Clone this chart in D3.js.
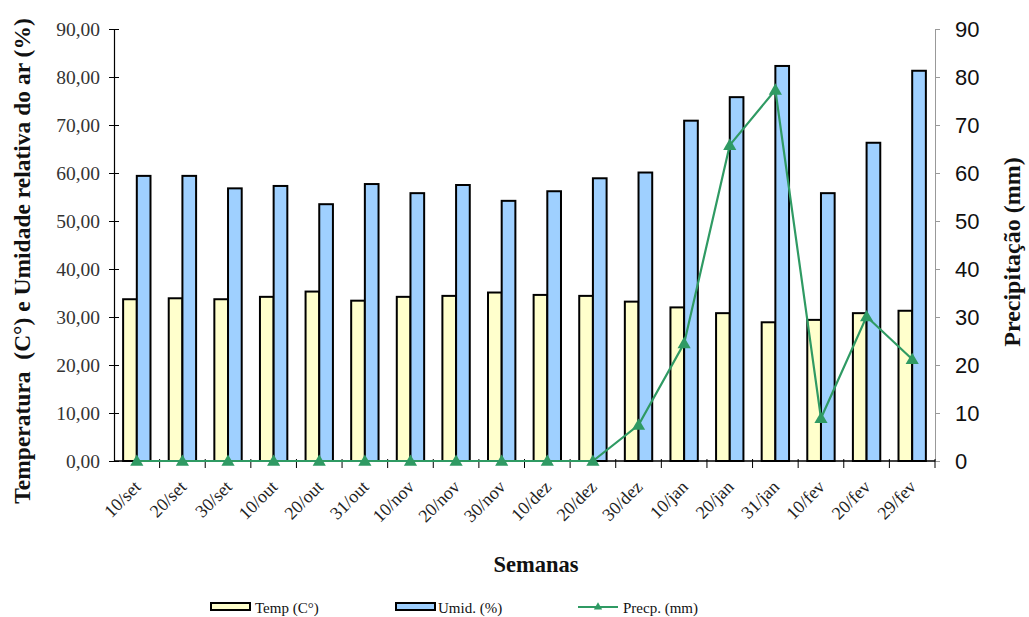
<!DOCTYPE html>
<html>
<head>
<meta charset="utf-8">
<script src="https://cdn.jsdelivr.net/npm/d3@7"></script>
<style>
  body { margin: 0; background: #fff; }
  svg { display: block; }
</style>
</head>
<body>
<svg id="chart" width="1029" height="617"></svg>
<script>
const semanas = ["10/set", "20/set", "30/set", "10/out", "20/out", "31/out", "10/nov", "20/nov", "30/nov",
    "10/dez", "20/dez", "30/dez", "10/jan", "20/jan", "31/jan", "10/fev", "20/fev", "29/fev"];
const temp = [33.7, 33.9, 33.7, 34.2, 35.3, 33.4, 34.2, 34.4, 35.1, 34.6, 34.4, 33.2, 32.0, 30.8, 28.9, 29.4, 30.8, 31.3];
const umid = [59.4, 59.4, 56.8, 57.3, 53.5, 57.7, 55.8, 57.5, 54.2, 56.2, 58.9, 60.1, 70.9, 75.8, 82.3, 55.8, 66.3, 81.3];
const precp = [0, 0, 0, 0, 0, 0, 0, 0, 0, 0, 0, 7.5, 24.5, 65.8, 77.3, 8.9, 30.1, 21.2];
const leftTicks = [0, 10, 20, 30, 40, 50, 60, 70, 80, 90];
const rightTicks = [0, 10, 20, 30, 40, 50, 60, 70, 80, 90];

const svg = d3.select("#chart");
const plotLeft = 114, plotRight = 935, plotTop = 29, plotBottom = 461;
const serif = "'Liberation Serif', 'Times New Roman', serif";
const sans = "'Liberation Sans', Arial, sans-serif";
const green = "#2f9a63";

const x = d3.scaleBand().domain(semanas).range([plotLeft, plotRight]).padding(0);
const xs = d3.scaleBand().domain(["temp", "umid"]).range([x.bandwidth() * 0.2, x.bandwidth() * 0.8]);
const yL = d3.scaleLinear().domain([0, 90]).range([plotBottom, plotTop]);
const yR = d3.scaleLinear().domain([0, 90]).range([plotBottom, plotTop]);

// bars
const g = svg.append("g");
semanas.forEach((s, i) => {
    g.append("rect")
        .attr("x", x(s) + xs("temp")).attr("y", yL(temp[i]))
        .attr("width", xs.bandwidth()).attr("height", plotBottom - yL(temp[i]))
        .attr("fill", "#ffffcc").attr("stroke", "#000").attr("stroke-width", 2);
    g.append("rect")
        .attr("x", x(s) + xs("umid")).attr("y", yL(umid[i]))
        .attr("width", xs.bandwidth()).attr("height", plotBottom - yL(umid[i]))
        .attr("fill", "#9fd0ff").attr("stroke", "#000").attr("stroke-width", 2);
});

// left axis
const axL = svg.append("g").attr("transform", `translate(${plotLeft},0)`)
    .call(d3.axisLeft(yL).tickValues(leftTicks).tickSize(5).tickPadding(9)
        .tickFormat(d => d3.format(".2f")(d).replace(".", ",")));
axL.select(".domain").attr("stroke", "#000").attr("stroke-width", 1.2);
axL.selectAll(".tick line").attr("x1", 5).attr("x2", -5).attr("stroke", "#000");
axL.selectAll(".tick text").attr("font-family", serif).attr("font-size", 19.5).attr("fill", "#333");

// right axis
const axR = svg.append("g").attr("transform", `translate(${plotRight},0)`)
    .call(d3.axisRight(yR).tickValues(rightTicks).tickSize(5).tickPadding(15));
axR.select(".domain").attr("stroke", "#999");
axR.selectAll(".tick line").attr("stroke", "#999");
axR.selectAll(".tick text").attr("font-family", sans).attr("font-size", 22).attr("fill", "#111");

// x axis baseline and ticks
svg.append("line").attr("x1", plotLeft).attr("x2", plotRight).attr("y1", plotBottom).attr("y2", plotBottom)
    .attr("stroke", "#000").attr("stroke-width", 1.5);
const bounds = semanas.map(s => x(s)).concat([plotRight]);
svg.selectAll(".xtick").data(bounds.slice(1)).enter().append("line")
    .attr("x1", d => d).attr("x2", d => d).attr("y1", plotBottom - 2).attr("y2", plotBottom + 7)
    .attr("stroke", "#000");
svg.selectAll(".xlab").data(semanas).enter().append("text")
    .attr("transform", d => `translate(${x(d) + x.bandwidth() / 2 + 5},${plotBottom + 27}) rotate(-45)`)
    .attr("text-anchor", "end")
    .attr("font-family", serif).attr("font-size", 18).attr("fill", "#222")
    .text(d => d);

// precipitation line
const line = d3.line().x((d, i) => x(semanas[i]) + x.bandwidth() / 2).y(d => yR(d));
svg.append("path").datum(precp).attr("d", line)
    .attr("fill", "none").attr("stroke", green).attr("stroke-width", 2.2);
const tri = d3.symbol().type(d3.symbolTriangle).size(75);
svg.selectAll(".mk").data(precp).enter().append("path")
    .attr("d", tri)
    .attr("transform", (d, i) => `translate(${x(semanas[i]) + x.bandwidth() / 2},${yR(d) + 1})`)
    .attr("fill", green);

// titles
svg.append("text")
    .attr("transform", "translate(30,261) rotate(-90)")
    .attr("text-anchor", "middle").attr("font-family", serif).attr("font-weight", "bold")
    .attr("font-size", 23.5).attr("fill", "#111")
    .attr("xml:space", "preserve")
    .text("Temperatura  (C°) e Umidade relativa do ar (%)");
svg.append("text")
    .attr("transform", "translate(1020,252) rotate(-90)")
    .attr("text-anchor", "middle").attr("font-family", serif).attr("font-weight", "bold")
    .attr("font-size", 24).attr("fill", "#111")
    .text("Precipitação (mm)");
svg.append("text")
    .attr("x", 536).attr("y", 572)
    .attr("text-anchor", "middle").attr("font-family", serif).attr("font-weight", "bold")
    .attr("font-size", 22.5).attr("fill", "#111")
    .text("Semanas");

// legend
const lg = svg.append("g").attr("font-family", serif).attr("font-size", 15).attr("fill", "#111");
lg.append("rect").attr("x", 211).attr("y", 603).attr("width", 39).attr("height", 7)
    .attr("fill", "#ffffcc").attr("stroke", "#000").attr("stroke-width", 2);
lg.append("text").attr("x", 255).attr("y", 613).text("Temp (C°)");
lg.append("rect").attr("x", 396).attr("y", 603).attr("width", 39).attr("height", 7)
    .attr("fill", "#9fd0ff").attr("stroke", "#000").attr("stroke-width", 2);
lg.append("text").attr("x", 438).attr("y", 613).text("Umid. (%)");
lg.append("line").attr("x1", 578).attr("x2", 618).attr("y1", 607).attr("y2", 607)
    .attr("stroke", green).attr("stroke-width", 2);
lg.append("path").attr("d", d3.symbol().type(d3.symbolTriangle).size(30))
    .attr("transform", "translate(598,607)").attr("fill", green);
lg.append("text").attr("x", 623).attr("y", 613).text("Precp. (mm)");
</script>
</body>
</html>
